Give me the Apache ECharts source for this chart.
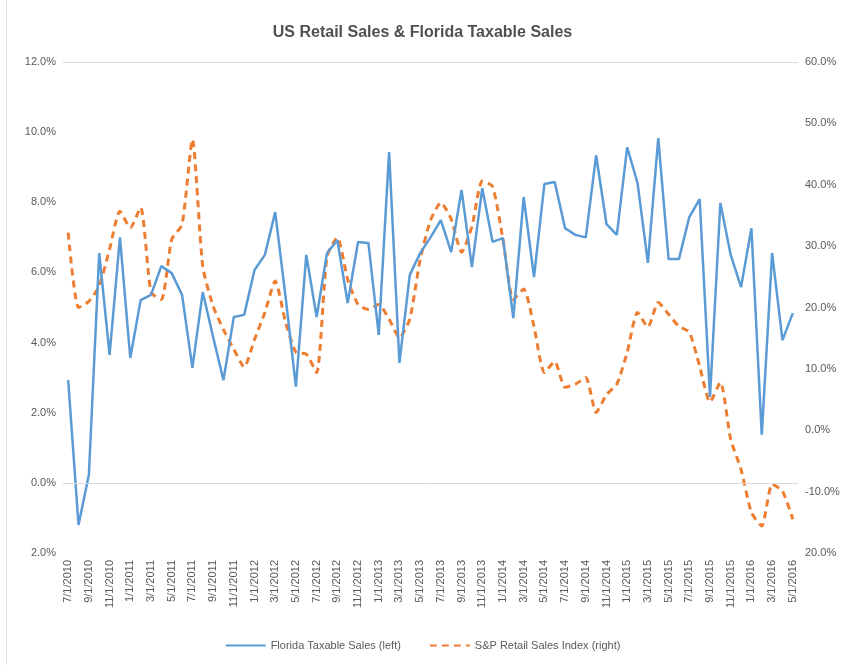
<!DOCTYPE html>
<html>
<head>
<meta charset="utf-8">
<script src="https://cdn.jsdelivr.net/npm/echarts@6/dist/echarts.min.js"></script>
<style>
  html, body { margin: 0; padding: 0; background: #fff; }
  #chart { width: 845px; height: 665px; }
</style>
</head>
<body>
<div id="chart"></div>
<script>
// monthly, 7/1/2010 .. 5/1/2016
const months = [];
for (let y = 2010, m = 7; y < 2016 || (y === 2016 && m <= 5); m++) {
  if (m > 12) { m = 1; y++; }
  months.push(m + '/1/' + y);
}

// Florida taxable sales, % y/y (left axis)
const floridaSales = [
  2.93, -1.2, 0.23, 6.55, 3.65, 7.0, 3.56, 5.21, 5.36, 6.18,
  5.98, 5.36, 3.28, 5.44, 4.16, 2.93, 4.73, 4.79, 6.07, 6.5,
  7.72, 5.3, 2.74, 6.5, 4.73, 6.55, 6.92, 5.13, 6.87, 6.84,
  4.22, 9.43, 3.42, 5.93, 6.55, 7.0, 7.49, 6.58, 8.35, 6.15,
  8.4, 6.87, 6.98, 4.7, 8.15, 5.87, 8.52, 8.58, 7.26, 7.07,
  7.0, 9.34, 7.38, 7.07, 9.57, 8.55, 6.27, 9.83, 6.38, 6.38,
  7.58, 8.09, 2.45, 7.98, 6.5, 5.58, 7.26, 1.37, 6.55, 4.07,
  4.84
];

// S&P retail sales index, % y/y (right axis)
const spRetail = [
  32.2, 20.0, 21.0, 23.5, 29.5, 35.7, 33.0, 36.3, 22.5, 21.3,
  31.1, 33.5, 47.4, 26.7, 20.2, 16.4, 13.2, 10.3, 14.8, 19.2,
  24.3, 17.6, 12.7, 12.4, 9.4, 28.3, 31.4, 24.6, 20.5, 19.7,
  20.5, 18.1, 15.1, 18.1, 27.8, 34.2, 37.1, 34.4, 29.0, 33.2,
  40.6, 39.7, 31.1, 21.3, 23.0, 16.9, 9.4, 11.2, 7.0, 7.5,
  8.6, 2.9, 5.8, 7.5, 12.7, 19.2, 16.8, 20.8, 18.9, 16.9,
  16.0, 10.4, 4.6, 7.8, -1.5, -6.4, -13.4, -15.6, -8.8, -9.9,
  -14.5
];

const leftTicks = { min: -2, max: 12, step: 2 };
const rightTicks = { min: -20, max: 60, step: 10 };

const labelColor = '#595959';
const font = 'Liberation Sans';

// bottom labels in the reference have no minus sign
function pct(bottom) {
  return function (v) {
    if (v === bottom) return Math.abs(v).toFixed(1) + '%';
    return v.toFixed(1) + '%';
  };
}

const chart = echarts.init(document.getElementById('chart'));
chart.setOption({
  backgroundColor: '#fff',
  animation: false,
  title: {
    text: 'US Retail Sales & Florida Taxable Sales',
    left: 'center',
    top: 20,
    textStyle: { fontFamily: font, fontSize: 16, fontWeight: 'bold', color: '#505050' }
  },
  graphic: [{
    type: 'line',
    shape: { x1: 6.5, y1: 0, x2: 6.5, y2: 665 },
    style: { stroke: '#e3e3e3', lineWidth: 1 }
  }],
  grid: { left: 63, right: 47, top: 62, bottom: 112, containLabel: false },
  legend: {
    bottom: 9,
    left: 'center',
    itemWidth: 40,
    itemHeight: 10,
    itemGap: 28,
    itemStyle: { opacity: 0 },
    textStyle: { fontFamily: font, fontSize: 11, color: labelColor },
    data: ['Florida Taxable Sales (left)', 'S&P Retail Sales Index (right)']
  },
  xAxis: {
    type: 'category',
    data: months,
    boundaryGap: true,
    axisLine: { show: false },
    axisTick: { show: false },
    axisLabel: {
      interval: 1,
      rotate: 90,
      margin: 7,
      fontFamily: font,
      fontSize: 11,
      color: labelColor
    }
  },
  yAxis: [{
    type: 'value',
    min: leftTicks.min, max: leftTicks.max, interval: leftTicks.step,
    axisLine: { show: false },
    axisTick: { show: false },
    splitLine: { show: false },
    axisLabel: { formatter: pct(leftTicks.min), margin: 7, fontFamily: font, fontSize: 11, color: labelColor }
  }, {
    type: 'value',
    min: rightTicks.min, max: rightTicks.max, interval: rightTicks.step,
    axisLine: { show: false },
    axisTick: { show: false },
    splitLine: { show: false },
    axisLabel: { formatter: pct(rightTicks.min), margin: 7, fontFamily: font, fontSize: 11, color: labelColor }
  }],
  series: [{
    name: 'Florida Taxable Sales (left)',
    type: 'line',
    yAxisIndex: 0,
    data: floridaSales,
    showSymbol: false,
    symbol: 'none',
    lineStyle: { color: '#5b9bd5', width: 2.5 },
    itemStyle: { color: '#5b9bd5' },
    markLine: {
      silent: true,
      symbol: 'none',
      label: { show: false },
      lineStyle: { color: '#d9d9d9', type: 'solid', width: 1 },
      data: [{ yAxis: 0 }, { yAxis: leftTicks.max }]
    },
    z: 3
  }, {
    name: 'S&P Retail Sales Index (right)',
    type: 'line',
    yAxisIndex: 1,
    data: spRetail,
    showSymbol: false,
    symbol: 'none',
    smooth: 0.2,
    lineStyle: { color: '#ed7d31', width: 3, type: [7, 5] },
    itemStyle: { color: '#ed7d31' },
    z: 2
  }]
});
</script>
</body>
</html>
